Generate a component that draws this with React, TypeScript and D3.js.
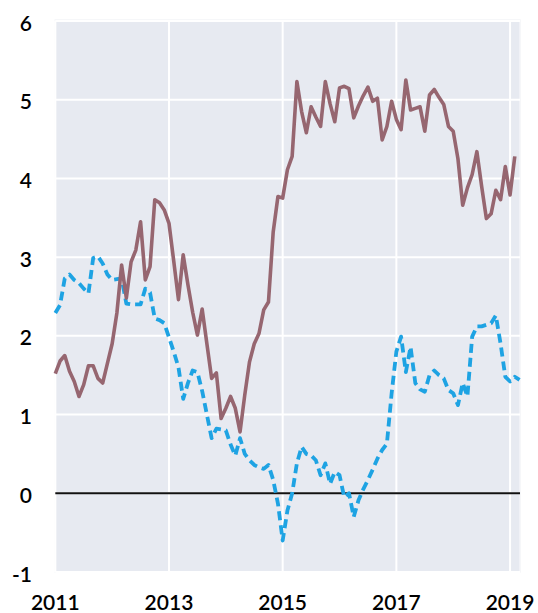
import React from "react";
import * as d3 from "d3";

// Monthly data, Jan 2011 onward (index = months since Jan 2011)
const seriesA: number[] = [
  1.52, 1.68, 1.75, 1.55, 1.42, 1.23, 1.38, 1.62, 1.62, 1.46, 1.40, 1.65,
  1.90, 2.29, 2.90, 2.48, 2.94, 3.09, 3.45, 2.71, 2.88, 3.73, 3.69, 3.60,
  3.43, 2.95, 2.46, 3.03, 2.65, 2.30, 2.01, 2.34, 1.90, 1.46, 1.53, 0.95,
  1.08, 1.23, 1.08, 0.78, 1.25, 1.67, 1.90, 2.03, 2.33, 2.43, 3.32, 3.77,
  3.75, 4.11, 4.28, 5.23, 4.85, 4.58, 4.91, 4.78, 4.66, 5.23, 4.95, 4.72,
  5.15, 5.17, 5.14, 4.77, 4.92, 5.05, 5.16, 4.98, 5.02, 4.49, 4.66, 4.98,
  4.75, 4.62, 5.25, 4.87, 4.89, 4.91, 4.60, 5.06, 5.13, 5.03, 4.94, 4.66,
  4.60, 4.25, 3.66, 3.88, 4.05, 4.34, 3.90, 3.49, 3.55, 3.85, 3.73, 4.15,
  3.79, 4.28,
];

const seriesB: number[] = [
  2.29, 2.39, 2.73, 2.78, 2.71, 2.67, 2.60, 2.54, 2.99, 3.01, 2.92, 2.78,
  2.71, 2.72, 2.73, 2.41, 2.40, 2.40, 2.40, 2.60, 2.55, 2.22, 2.20, 2.16,
  1.98, 1.80, 1.60, 1.20, 1.40, 1.56, 1.54, 1.30, 1.00, 0.70, 0.82, 0.81,
  0.80, 0.62, 0.48, 0.70, 0.50, 0.42, 0.36, 0.33, 0.31, 0.36, 0.17, -0.13,
  -0.60, -0.22, 0.00, 0.38, 0.59, 0.50, 0.48, 0.42, 0.23, 0.38, 0.12, 0.27,
  0.23, -0.05, 0.00, -0.30, -0.09, 0.05, 0.17, 0.30, 0.44, 0.55, 0.63, 1.27,
  1.80, 1.99, 1.54, 1.86, 1.40, 1.32, 1.29, 1.50, 1.56, 1.50, 1.46, 1.31,
  1.27, 1.12, 1.40, 1.23, 1.99, 2.12, 2.12, 2.14, 2.16, 2.26, 1.90, 1.48,
  1.42, 1.48, 1.44,
];

const yTicks: number[] = [-1, 0, 1, 2, 3, 4, 5, 6];
const xTickYears: number[] = [2011, 2013, 2015, 2017, 2019];

export default function App() {
  const W = 538;
  const H = 613;
  const left = 55.3;
  const right = 520;
  const top = 21;
  const bottom = 572;

  const x = d3.scaleLinear().domain([0, 98.1]).range([left, right]);
  const y = d3.scaleLinear().domain([-1, 6]).range([bottom, top]);

  const line = d3
    .line<number>()
    .x((_, i) => x(i))
    .y((d) => y(d));

  const font = "Lato, 'DejaVu Sans', sans-serif";

  return (
    <svg
      width={W}
      height={H}
      style={{ position: "absolute", left: 0, top: 0, display: "block" }}
    >
      <rect x={0} y={0} width={W} height={H} fill="#ffffff" />
      <rect
        x={left}
        y={top - 1}
        width={right - left}
        height={bottom - top + 1}
        fill="#E7EAF1"
        stroke="#F4F5F8"
        strokeWidth={1.5}
      />
      {yTicks.map((t) => (
        <line
          key={"gy" + t}
          x1={left}
          x2={right}
          y1={y(t)}
          y2={y(t)}
          stroke="#ffffff"
          strokeWidth={2}
        />
      ))}
      {xTickYears.map((yr) => (
        <line
          key={"gx" + yr}
          x1={x((yr - 2011) * 12)}
          x2={x((yr - 2011) * 12)}
          y1={top}
          y2={bottom}
          stroke="#ffffff"
          strokeWidth={2}
        />
      ))}
      <line
        x1={left}
        x2={right}
        y1={y(0)}
        y2={y(0)}
        stroke="#111111"
        strokeWidth={2}
      />
      <path
        d={line(seriesB) || ""}
        fill="none"
        stroke="#1EA3E3"
        strokeWidth={3.8}
        strokeDasharray="9 5"
        strokeLinejoin="round"
      />
      <path
        d={line(seriesA) || ""}
        fill="none"
        stroke="#966670"
        strokeWidth={3.6}
        strokeLinejoin="round"
      />
      {yTicks.map((t) => (
        <text
          key={"ly" + t}
          x={32}
          y={y(t) + 1}
          textAnchor="end"
          dominantBaseline="central"
          fontFamily={font}
          fontSize={21}
          fontWeight={600}
          fill="#000000"
        >
          {t}
        </text>
      ))}
      {xTickYears.map((yr) => (
        <text
          key={"lx" + yr}
          x={x((yr - 2011) * 12)}
          y={610}
          textAnchor="middle"
          fontFamily={font}
          fontSize={21}
          fontWeight={600}
          fill="#000000"
        >
          {yr}
        </text>
      ))}
    </svg>
  );
}
